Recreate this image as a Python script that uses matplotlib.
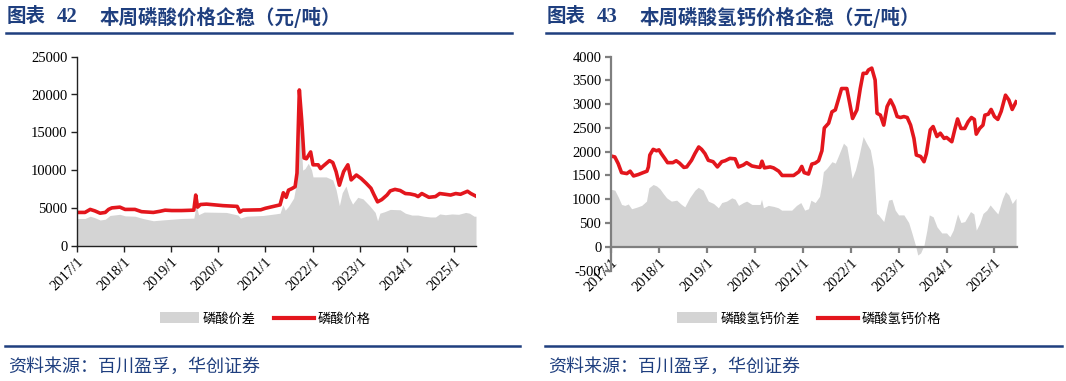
import matplotlib

matplotlib.use("Agg")
import matplotlib.pyplot as plt
from matplotlib.lines import Line2D
from matplotlib.patches import Patch

plt.rcParams["axes.unicode_minus"] = False

W, H = 1066, 381
NAVY = "#1F3F7F"
RED = "#E3161D"
GRAY = "#D4D4D4"
CJK = ["Noto Sans CJK SC", "DejaVu Sans"]
SERIF = "Liberation Serif"

YEARS = [2017, 2018, 2019, 2020, 2021, 2022, 2023, 2024, 2025]
YEAR_LABELS = [f"{y}/1" for y in YEARS]

# chart 42: phosphoric acid price and spread (yuan/t), x in decimal years
acid_price_x = [2017.00, 2017.17, 2017.28, 2017.38, 2017.49, 2017.60, 2017.67, 2017.74, 2017.91, 2018.02,
                2018.23, 2018.37, 2018.62, 2018.76, 2018.87, 2019.01, 2019.22, 2019.48, 2019.52, 2019.56,
                2019.62, 2019.75, 2020.10, 2020.40, 2020.46, 2020.52, 2020.90, 2021.00, 2021.31, 2021.38,
                2021.44, 2021.49, 2021.56, 2021.63, 2021.67, 2021.72, 2021.77, 2021.82, 2021.87, 2021.96,
                2022.01, 2022.12, 2022.17, 2022.22, 2022.36, 2022.43, 2022.50, 2022.57, 2022.66, 2022.75,
                2022.82, 2022.93, 2023.03, 2023.14, 2023.24, 2023.30, 2023.38, 2023.47, 2023.58, 2023.65,
                2023.75, 2023.86, 2023.97, 2024.07, 2024.18, 2024.24, 2024.32, 2024.47, 2024.61, 2024.70,
                2024.82, 2024.93, 2025.04, 2025.14, 2025.29, 2025.36, 2025.47]
acid_price = [4400, 4400, 4800, 4600, 4300, 4400, 4800, 5000, 5100, 4800,
              4800, 4500, 4400, 4550, 4700, 4650, 4650, 4700, 6700, 5100,
              5450, 5500, 5300, 5200, 4450, 4700, 4750, 4950, 5400, 7000,
              6400, 7350, 7550, 7800, 9600, 20600, 16600, 11600, 11500, 12400,
              10700, 10700, 10200, 10500, 11250, 11000, 9800, 8000, 9800, 10700,
              8700, 9350, 8900, 8250, 7600, 6800, 5800, 6100, 6700, 7250,
              7450, 7300, 6900, 6850, 6700, 6500, 6900, 6400, 6500, 6900,
              6800, 6700, 6900, 6800, 7200, 6900, 6550]

acid_spread_x = [2017.00, 2017.17, 2017.28, 2017.38, 2017.49, 2017.60, 2017.70, 2017.91, 2018.02, 2018.23,
                 2018.40, 2018.62, 2018.80, 2019.01, 2019.22, 2019.48, 2019.53, 2019.58, 2019.70, 2020.17,
                 2020.42, 2020.47, 2020.60, 2020.95, 2021.20, 2021.31, 2021.37, 2021.42, 2021.49, 2021.60,
                 2021.67, 2021.72, 2021.79, 2021.84, 2021.91, 2021.98, 2022.01, 2022.15, 2022.29, 2022.43,
                 2022.50, 2022.57, 2022.63, 2022.71, 2022.78, 2022.85, 2022.96, 2023.07, 2023.21, 2023.33,
                 2023.38, 2023.43, 2023.53, 2023.65, 2023.86, 2023.97, 2024.11, 2024.24, 2024.36, 2024.50,
                 2024.61, 2024.70, 2024.82, 2024.96, 2025.10, 2025.25, 2025.33, 2025.43, 2025.47]
acid_spread = [3600, 3600, 3900, 3700, 3400, 3500, 4000, 4150, 3950, 3900,
               3600, 3300, 3400, 3500, 3600, 3650, 5400, 4100, 4450, 4400,
               4050, 3650, 3900, 4000, 4200, 4300, 5400, 4700, 5200, 6300,
               8700, 18900, 10000, 10200, 10900, 10000, 9100, 9100, 9100, 8700,
               7400, 5300, 7000, 7900, 6400, 5500, 6400, 6200, 5300, 4400,
               3300, 4300, 4500, 4800, 4750, 4300, 4050, 4050, 3900, 3800,
               3800, 4200, 4100, 4200, 4150, 4400, 4300, 3900, 3900]

# chart 43: dicalcium phosphate price and spread (yuan/t)
dcp_price_x = [2017.00, 2017.08, 2017.15, 2017.22, 2017.33, 2017.40, 2017.47, 2017.57, 2017.67, 2017.75,
               2017.78, 2017.81, 2017.88, 2017.95, 2018.00, 2018.05, 2018.12, 2018.18, 2018.29, 2018.36,
               2018.43, 2018.52, 2018.58, 2018.68, 2018.75, 2018.83, 2018.89, 2018.96, 2019.03, 2019.13,
               2019.22, 2019.31, 2019.38, 2019.48, 2019.59, 2019.66, 2019.76, 2019.83, 2019.94, 2020.04,
               2020.11, 2020.15, 2020.20, 2020.32, 2020.39, 2020.50, 2020.57, 2020.81, 2020.92, 2020.98,
               2021.03, 2021.12, 2021.19, 2021.26, 2021.33, 2021.40, 2021.45, 2021.54, 2021.61, 2021.68,
               2021.75, 2021.81, 2021.92, 2021.98, 2022.04, 2022.13, 2022.20, 2022.26, 2022.33, 2022.37,
               2022.44, 2022.51, 2022.55, 2022.62, 2022.69, 2022.76, 2022.83, 2022.90, 2022.97, 2023.04,
               2023.11, 2023.18, 2023.25, 2023.32, 2023.37, 2023.46, 2023.53, 2023.58, 2023.66, 2023.72,
               2023.80, 2023.87, 2023.95, 2024.00, 2024.11, 2024.17, 2024.23, 2024.30, 2024.38, 2024.45,
               2024.52, 2024.58, 2024.62, 2024.69, 2024.76, 2024.80, 2024.87, 2024.93, 2025.00, 2025.07,
               2025.14, 2025.23, 2025.30, 2025.37, 2025.45]
dcp_price = [1910, 1890, 1750, 1560, 1540, 1590, 1490, 1520, 1560, 1590,
             1680, 1930, 2050, 2020, 2040, 1960, 1860, 1770, 1770, 1810,
             1760, 1670, 1680, 1820, 1960, 2100, 2050, 1960, 1820, 1790,
             1680, 1790, 1810, 1860, 1850, 1680, 1720, 1770, 1700, 1680,
             1670, 1800, 1660, 1680, 1660, 1590, 1500, 1500, 1580, 1690,
             1560, 1530, 1740, 1760, 1810, 2020, 2500, 2600, 2840, 2880,
             3120, 3330, 3330, 3020, 2700, 2880, 3330, 3650, 3650, 3720,
             3760, 3510, 2810, 2770, 2560, 2950, 3090, 2950, 2740, 2720,
             2740, 2720, 2560, 2280, 1930, 1900, 1790, 1960, 2460, 2530,
             2320, 2390, 2280, 2300, 2210, 2460, 2690, 2490, 2490, 2630,
             2720, 2680, 2370, 2490, 2560, 2770, 2790, 2890, 2740, 2680,
             2850, 3190, 3090, 2890, 3050]

dcp_spread_x = [2017.00, 2017.08, 2017.15, 2017.22, 2017.29, 2017.36, 2017.43, 2017.53, 2017.64, 2017.74,
                2017.79, 2017.88, 2017.95, 2018.02, 2018.09, 2018.16, 2018.26, 2018.37, 2018.47, 2018.54,
                2018.64, 2018.75, 2018.82, 2018.92, 2019.03, 2019.14, 2019.24, 2019.31, 2019.41, 2019.52,
                2019.59, 2019.66, 2019.76, 2019.83, 2019.94, 2020.04, 2020.11, 2020.14, 2020.18, 2020.28,
                2020.39, 2020.49, 2020.56, 2020.77, 2020.87, 2020.96, 2021.04, 2021.12, 2021.17, 2021.26,
                2021.35, 2021.40, 2021.43, 2021.50, 2021.61, 2021.68, 2021.75, 2021.85, 2021.92, 2021.98,
                2022.03, 2022.10, 2022.17, 2022.26, 2022.33, 2022.41, 2022.48, 2022.54, 2022.58, 2022.69,
                2022.79, 2022.86, 2022.93, 2023.00, 2023.11, 2023.21, 2023.28, 2023.35, 2023.40, 2023.46,
                2023.53, 2023.59, 2023.64, 2023.72, 2023.80, 2023.90, 2024.00, 2024.07, 2024.14, 2024.23,
                2024.30, 2024.38, 2024.50, 2024.57, 2024.62, 2024.69, 2024.76, 2024.84, 2024.91, 2025.00,
                2025.07, 2025.17, 2025.23, 2025.30, 2025.37, 2025.45]
dcp_spread = [1210, 1190, 1050, 890, 870, 900, 800, 830, 870, 960,
              1240, 1310, 1280, 1220, 1120, 1030, 960, 980, 890, 840,
              1030, 1190, 1250, 1190, 960, 910, 820, 930, 960, 1030,
              1000, 870, 930, 960, 890, 890, 890, 1000, 820, 870,
              850, 820, 770, 770, 870, 930, 770, 800, 980, 930,
              1060, 1340, 1580, 1650, 1790, 1760, 1930, 2180, 2110, 1760,
              1440, 1620, 1900, 2320, 2180, 2040, 1650, 700, 670, 530,
              980, 1000, 770, 670, 670, 510, 280, 35, -175, -130,
              35, 350, 670, 630, 420, 290, 290, 210, 350, 690,
              510, 530, 740, 690, 350, 490, 700, 770, 880, 770,
              690, 1020, 1160, 1090, 910, 1020]


def fx(px):
    return px / W


def fy(py):
    return 1 - py / H


def style_axis(ax, ylim, yticks, spine_color, spine_width, x_spine_at=None):
    for side in ("top", "right"):
        ax.spines[side].set_visible(False)
    if x_spine_at is not None:
        ax.spines["bottom"].set_position(("data", x_spine_at))
    for side in ("left", "bottom"):
        ax.spines[side].set_color(spine_color)
        ax.spines[side].set_linewidth(spine_width)
    ax.set_xlim(2017.0, 2025.47)
    ax.set_ylim(*ylim)
    ax.set_yticks(yticks)
    ax.set_yticklabels([str(t) for t in yticks], fontfamily=SERIF)
    ax.set_xticks(YEARS)
    ax.set_xticklabels(YEAR_LABELS, rotation=45, ha="right", va="top",
                       rotation_mode="anchor", fontfamily=SERIF)
    ax.tick_params(axis="both", direction="out", length=4, width=spine_width,
                   color=spine_color, labelsize=10.5, pad=3)


def header(x0, x1, number, title):
    fig.text(fx(x0 + 1), fy(17), "图表", fontsize=14, fontweight="bold", color=NAVY,
             family=CJK, va="center", ha="left")
    fig.text(fx(x0 + 51), fy(17), number, fontsize=15, fontweight="bold", color=NAVY,
             family=SERIF, va="center", ha="left")
    fig.text(fx(x0 + 94), fy(17), title, fontsize=14, fontweight="bold", color=NAVY,
             family=CJK, va="center", ha="left")
    fig.add_artist(Line2D([fx(x0), fx(x1)], [fy(33), fy(33)], color=NAVY, lw=1.8,
                          transform=fig.transFigure))
    fig.add_artist(Line2D([fx(x0 - 1), fx(x1 + 8)], [fy(346), fy(346)], color=NAVY, lw=1.8,
                          transform=fig.transFigure))
    fig.text(fx(x0 + 2), fy(367), "资料来源：百川盈孚，华创证券", fontsize=13, color=NAVY,
             family=CJK, va="center", ha="left", style="italic")


def legend(cx, spread_label, price_label):
    handles = [Patch(facecolor=GRAY, edgecolor="none"), Line2D([], [], color=RED, lw=3)]
    fig.legend(handles, [spread_label, price_label], loc="center", bbox_to_anchor=(fx(cx), fy(319)),
               ncol=2, frameon=False, prop={"family": CJK, "size": 9.5},
               handlelength=3.0, handleheight=0.9, handletextpad=0.25, columnspacing=1.4)


fig = plt.figure(figsize=(W / 100, H / 100), dpi=100)

# left chart
ax1 = fig.add_axes([fx(77), fy(245.7), fx(476 - 77), (245.7 - 56.7) / H])
ax1.fill_between(acid_spread_x, 0, acid_spread, color=GRAY, lw=0)
ax1.plot(acid_price_x, acid_price, color=RED, lw=2.6, solid_joinstyle="round")
style_axis(ax1, (0, 25000), list(range(0, 25001, 5000)), "#222222", 1.0)

# right chart, x axis crosses at zero
ax2 = fig.add_axes([fx(611), fy(270.5), fx(1017 - 611), (270.5 - 56.7) / H])
ax2.fill_between(dcp_spread_x, 0, dcp_spread, color=GRAY, lw=0)
ax2.plot(dcp_price_x, dcp_price, color=RED, lw=2.6, solid_joinstyle="round")
style_axis(ax2, (-500, 4000), list(range(-500, 4001, 500)), "#7F7F7F", 1.6, x_spine_at=0)

header(6, 512, "42", "本周磷酸价格企稳（元/吨）")
header(546, 1054, "43", "本周磷酸氢钙价格企稳（元/吨）")

legend(265, "磷酸价差", "磷酸价格")
legend(809, "磷酸氢钙价差", "磷酸氢钙价格")

fig.savefig("out.png", dpi=100)
